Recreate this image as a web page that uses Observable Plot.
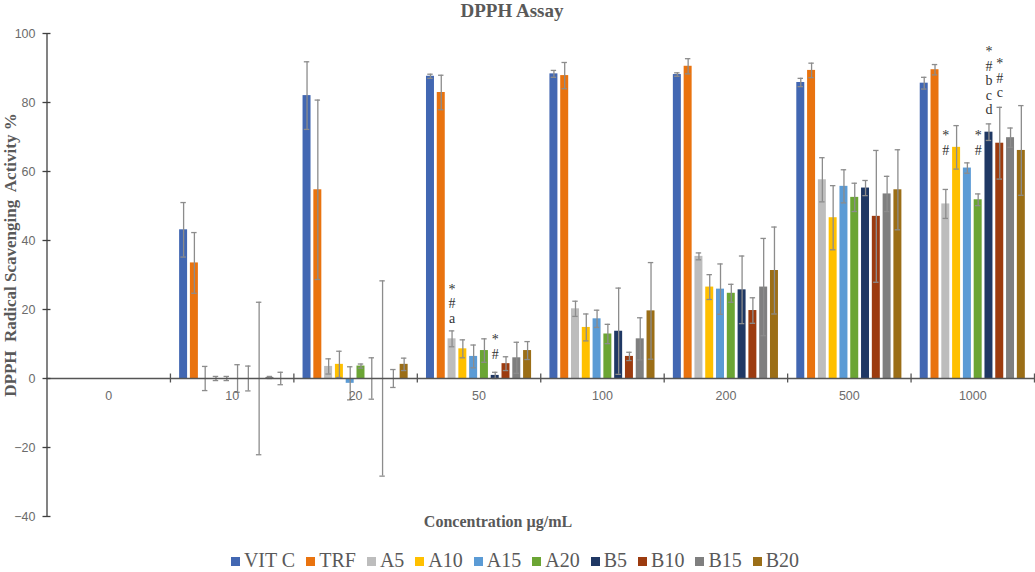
<!DOCTYPE html>
<html>
<head>
<meta charset="utf-8">
<script src="https://cdn.jsdelivr.net/npm/d3@7"></script>
<script src="https://cdn.jsdelivr.net/npm/@observablehq/plot@0.6"></script>
<style>
  html, body { margin: 0; padding: 0; background: #fff; }
  #wrap { position: relative; width: 1035px; height: 572px; overflow: hidden; background: #fff; }
  #chart { position: absolute; left: 0; top: 0; }
  #title { position: absolute; left: 312px; width: 400px; top: 0px; height: 20px; line-height: 20px; text-align: center;
           font: bold 19px "Liberation Serif", serif; color: #595959; }
  #ylabel { position: absolute; left: -140.5px; top: 245.5px; width: 300px; height: 18px; line-height: 18px; text-align: center;
            transform: rotate(-90deg); white-space: pre; font: bold 17px "Liberation Serif", serif; color: #595959; }
  #xlabel { position: absolute; left: 348px; width: 300px; top: 513px; height: 16px; line-height: 16px; text-align: center;
            font: bold 16px "Liberation Serif", serif; color: #595959; }
  #legend { position: absolute; left: 0; width: 1030px; top: 550px; height: 20px; line-height: 20px; display: flex; justify-content: center;
            font: 20px "Liberation Serif", serif; color: #595959; }
  .item { display: flex; align-items: center; margin: 0 5.5px; }
  .sw { width: 9px; height: 9px; margin-right: 4px; margin-top: 3px; }
</style>
</head>
<body>
<div id="wrap">
  <div id="chart"></div>
  <div id="title">DPPH Assay</div>
  <div id="ylabel">DPPH  Radical Scavenging  Activity %</div>
  <div id="xlabel">Concentration µg/mL</div>
  <div id="legend"></div>
</div>
<script>
// ---------- data ----------
const categories = ["0", "10", "20", "50", "100", "200", "500", "1000"];
const series = ["VIT C", "TRF", "A5", "A10", "A15", "A20", "B5", "B10", "B15", "B20"];
const colors = ["#4267B2", "#E9730F", "#BDBDBD", "#FFC000", "#5B9BD5", "#6BA534", "#1F3864", "#9C3B0F", "#7F7F7F", "#9B6E17"];
const yTicks = [-40, -20, 0, 20, 40, 60, 80, 100];

// means (% activity) per series, one per concentration
const VIT_C = [null, 43.1, 82.0, 87.6, 88.3, 88.1, 85.8, 85.6];
const TRF   = [null, 33.5, 54.7, 82.9, 87.8, 90.5, 89.3, 89.5];
const A5    = [null, 0.0, 3.5, 11.5, 20.2, 35.4, 57.6, 50.6];
const A10   = [null, 0.0, 4.1, 8.6, 14.8, 26.5, 46.6, 67.0];
const A15   = [null, 0.0, -1.4, 6.4, 17.3, 25.9, 55.7, 61.0];
const A20   = [null, 0.0, 3.6, 8.1, 12.9, 24.7, 52.5, 51.8];
const B5    = [null, 0.0, 0.0, 0.9, 13.7, 25.7, 55.2, 71.4];
const B10   = [null, 0.0, 0.0, 4.3, 6.4, 19.7, 47.0, 68.2];
const B15   = [null, 0.3, 0.0, 6.0, 11.5, 26.5, 53.5, 69.8];
const B20   = [null, 0.0, 4.1, 8.1, 19.6, 31.3, 54.7, 66.1];

// error (± SD) per series
const VIT_C_err = [null, 7.9, 9.8, 0.6, 1.0, 0.5, 1.2, 1.7];
const TRF_err   = [null, 8.8, 26.0, 5.0, 3.8, 2.2, 2.1, 1.5];
const A5_err    = [null, 3.5, 2.2, 2.3, 2.2, 1.0, 6.4, 4.2];
const A10_err   = [null, 0.6, 3.8, 2.6, 3.9, 3.6, 9.3, 6.3];
const A15_err   = [null, 0.6, 4.8, 3.3, 2.5, 7.3, 4.8, 1.5];
const A20_err   = [null, 4.0, 0.6, 3.4, 2.8, 2.6, 4.1, 1.7];
const B5_err    = [null, 3.6, 6.0, 0.9, 12.5, 9.8, 2.2, 2.4];
const B10_err   = [null, 22.1, 28.3, 2.0, 1.2, 3.7, 19.1, 10.4];
const B15_err   = [null, 0.3, 2.6, 4.5, 6.1, 14.1, 5.1, 2.8];
const B20_err   = [null, 1.8, 1.8, 2.6, 14.0, 12.6, 11.6, 13.0];

// significance annotations
const annoCategory = ["50", "50", "1000", "1000", "1000", "1000"];
const annoSeries   = ["A5", "B5", "A5", "A20", "B5", "B10"];
const annoText     = ["*\n#\na", "*\n#", "*\n#", "*\n#", "*\n#\nb\nc\nd", "*\n#\nc"];
const annoY        = [17.6, 7.2, 66.3, 66.3, 78.0, 83.0];

// ---------- build ----------
const means = [VIT_C, TRF, A5, A10, A15, A20, B5, B10, B15, B20];
const errs = [VIT_C_err, TRF_err, A5_err, A10_err, A15_err, A20_err, B5_err, B10_err, B15_err, B20_err];

const band = d3.scaleBand().domain(series).range([0, 1]).paddingInner(0.26).paddingOuter(0.85);
const bw = band.bandwidth();
const cap = bw * 0.34;

const rows = [];
categories.forEach((c, ci) => {
  series.forEach((s, si) => {
    const v = means[si][ci];
    if (v == null) return;
    rows.push({cat: c, ci, s, v, e: errs[si][ci], xc: ci + band(s) + bw / 2, x1: ci + band(s), x2: ci + band(s) + bw});
  });
});
const errRows = rows.filter(d => d.e != null);

const annos = annoText.map((t, i) => ({
  text: t,
  y: annoY[i],
  xc: categories.indexOf(annoCategory[i]) + band(annoSeries[i]) + bw / 2
}));

const H = 530;
const boundaries = d3.range(1, categories.length + 1);

const chart = Plot.plot({
  width: 1035,
  height: H,
  marginLeft: 46.5,
  marginRight: 1,
  marginTop: 33,
  marginBottom: H - 516,
  x: {domain: [0, categories.length], axis: null},
  y: {domain: [-40, 100], axis: null},
  color: {domain: series, range: colors},
  style: {fontFamily: "'Liberation Sans', Arial, sans-serif", fontSize: "12.5px", color: "#6b6b6b", background: "transparent", overflow: "visible"},
  marks: [
    Plot.rectY(rows, {x1: "x1", x2: "x2", y1: 0, y2: "v", fill: "s"}),
    Plot.ruleX(errRows, {x: "xc", y1: d => d.v - d.e, y2: d => d.v + d.e, stroke: "#8c8c8c", strokeWidth: 1.3}),
    Plot.ruleY(errRows, {y: d => d.v + d.e, x1: d => d.xc - cap, x2: d => d.xc + cap, stroke: "#8c8c8c", strokeWidth: 1.3}),
    Plot.ruleY(errRows, {y: d => d.v - d.e, x1: d => d.xc - cap, x2: d => d.xc + cap, stroke: "#8c8c8c", strokeWidth: 1.3}),
    Plot.ruleY([0], {stroke: "#555", strokeWidth: 1.3}),
    Plot.ruleX(boundaries, {x: d => d, y1: -1.3, y2: 1.3, stroke: "#555", strokeWidth: 1.3}),
    Plot.ruleX([0], {stroke: "#404040", strokeWidth: 1.3}),
    Plot.axisY(yTicks, {tickSize: 8, dx: 4, tickPadding: 7.5, label: null, stroke: "#404040", strokeWidth: 1.3}),
    Plot.text(categories, {x: (d, i) => i + 0.5, y: 0, dy: 17, text: d => d, fill: "#6b6b6b"}),
    Plot.text(annos, {x: "xc", y: "y", text: "text", lineAnchor: "bottom", lineHeight: 1.04, dy: 5,
                      fontFamily: "'Liberation Serif', serif", fontSize: 14, fill: "#333"})
  ]
});
document.getElementById("chart").appendChild(chart);

// legend
const legend = document.getElementById("legend");
series.forEach((s, i) => {
  const it = document.createElement("div");
  it.className = "item";
  const sw = document.createElement("span");
  sw.className = "sw";
  sw.style.background = colors[i];
  const lab = document.createElement("span");
  lab.textContent = s;
  it.appendChild(sw);
  it.appendChild(lab);
  legend.appendChild(it);
});
</script>
</body>
</html>
